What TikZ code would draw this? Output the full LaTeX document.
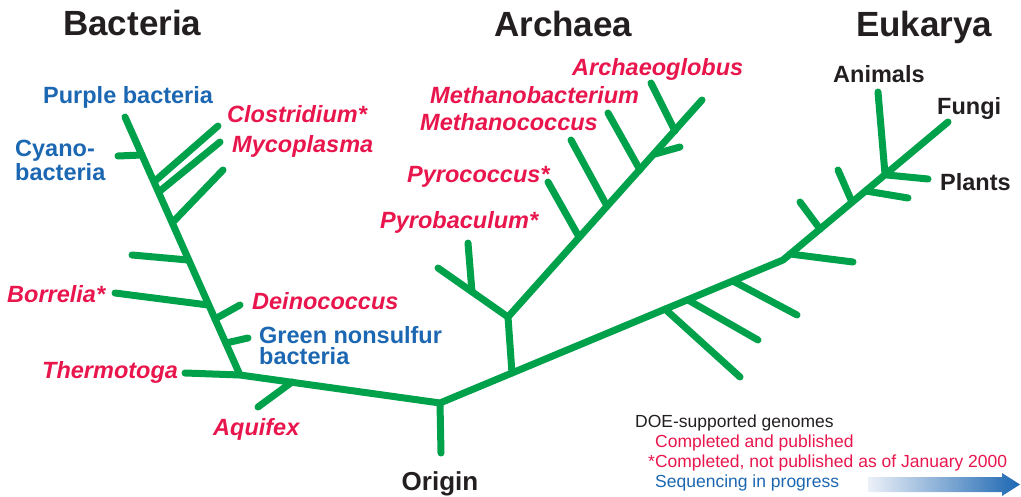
\documentclass[tikz,border=0pt]{standalone}
\usepackage{fontspec}
\setmainfont{Liberation Sans}
\definecolor{treegreen}{RGB}{0,161,75}
\definecolor{labred}{RGB}{232,22,76}
\definecolor{labblue}{RGB}{28,103,178}
\definecolor{labblack}{RGB}{35,31,32}
\definecolor{arrowlight}{RGB}{236,240,248}
\tikzset{
  branch/.style={draw=treegreen, line width=7pt, line cap=round, line join=round},
  titlelab/.style={font=\fontsize{35}{40}\selectfont\bfseries, text=labblack, inner sep=0pt, anchor=base west},
  redlab/.style={font=\fontsize{23.5}{24}\selectfont\bfseries\itshape, text=labred, inner sep=0pt, anchor=base west},
  bluelab/.style={font=\fontsize{23.5}{24}\selectfont\bfseries, text=labblue, inner sep=0pt, anchor=base west},
  bluetwo/.style={font=\fontsize{23.5}{#1}\selectfont\bfseries, text=labblue, inner sep=0pt, anchor=north west, align=left},
  blacklab/.style={font=\fontsize{23.5}{24}\selectfont\bfseries, text=labblack, inner sep=0pt, anchor=base west},
  legendlab/.style={font=\fontsize{17.5}{20}\selectfont, inner sep=0pt, anchor=base west},
}
\begin{document}
\begin{tikzpicture}[x=1pt,y=-1pt]
\useasboundingbox (0,0) rectangle (1021,497);

% ---------- Bacteria coordinates ----------
\coordinate (bt) at (125,117);
\coordinate (bj) at (240,375);
\coordinate (cyE) at (118,156);  \coordinate (cyJ) at (142,155);
\coordinate (clE) at (218,126);  \coordinate (clJ) at (155,181);
\coordinate (myE) at (220,142);  \coordinate (myJ) at (160,191);
\coordinate (u1E) at (223,170);  \coordinate (u1J) at (173,222);
\coordinate (u2E) at (132,255);  \coordinate (u2J) at (188,260);
\coordinate (boE) at (115,293);  \coordinate (boJ) at (208,305);
\coordinate (deE) at (240,305);  \coordinate (deJ) at (215,319);
\coordinate (gnE) at (248,338);  \coordinate (gnJ) at (226,343);
\coordinate (thE) at (185,373);
\coordinate (aqE) at (258,407);  \coordinate (aqJ) at (292,382);
\coordinate (orJ) at (440,403);  \coordinate (orE) at (441,453);

% ---------- Archaea coordinates ----------
\coordinate (arJ) at (512,373);
\coordinate (arB) at (508,317);
\coordinate (arL) at (438,268);
\coordinate (arLs) at (468,243); \coordinate (arLJ) at (472,292);
\coordinate (arT) at (702,100);
\coordinate (pbE) at (548,182);  \coordinate (pbJ) at (579,237);
\coordinate (pcE) at (571,140);  \coordinate (pcJ) at (607,206);
\coordinate (mcE) at (608,113);  \coordinate (mcJ) at (640,170);
\coordinate (agE) at (651,83);   \coordinate (agJ) at (675,131);
\coordinate (smE) at (680,147);  \coordinate (smJ) at (655,154);

% ---------- Eukarya coordinates ----------
\coordinate (euJ) at (783,260);
\coordinate (euT) at (948,122);
\coordinate (e1J) at (665,309);  \coordinate (e1E) at (740,377);
\coordinate (e2J) at (688,300);  \coordinate (e2E) at (758,340);
\coordinate (e3J) at (733,281);  \coordinate (e3E) at (797,315);
\coordinate (e4J) at (790,254);  \coordinate (e4E) at (853,262);
\coordinate (e5E) at (800,202);  \coordinate (e5J) at (820,229);
\coordinate (e6E) at (838,170);  \coordinate (e6J) at (852,202);
\coordinate (e7J) at (866,191);  \coordinate (e7E) at (908,198);
\coordinate (anE) at (878,92);   \coordinate (anJ) at (885,174);
\coordinate (plJ) at (887,175);  \coordinate (plE) at (928,179);

% ---------- tree ----------
\draw[branch] (thE) -- (bj) -- (orJ) -- (euJ) -- (euT);
\draw[branch] (bt) -- (bj);
\draw[branch] (orJ) -- (orE);
\draw[branch] (aqE) -- (aqJ);
\foreach \b in {cy,cl,my,u1,u2,bo,de,gn}{\draw[branch] (\b E) -- (\b J);}
\draw[branch] (arJ) -- (arB) -- (arT);
\draw[branch] (arB) -- (arL);
\draw[branch] (arLs) -- (arLJ);
\foreach \b in {pb,pc,mc,ag,sm}{\draw[branch] (\b E) -- (\b J);}
\foreach \b in {e1,e2,e3,e4,e5,e6,e7,an,pl}{\draw[branch] (\b E) -- (\b J);}

% ---------- titles ----------
\node[titlelab] (tBac) at (63,36) {Bacteria};
\node[titlelab] (tArc) at (494,37) {Archaea};
\node[titlelab] (tEuk) at (856,37) {Eukarya};

% ---------- bacteria labels ----------
\node[bluelab] (lPurple) at (43,104) {Purple bacteria};
\node[bluetwo=24] (lCyano) at (15,140) {Cyano-\\bacteria};
\node[redlab] (lClos) at (227,123) {Clostridium*};
\node[redlab] (lMyco) at (232,153) {Mycoplasma};
\node[redlab] (lBorr) at (7,303) {Borrelia*};
\node[redlab] (lDein) at (252,309) {Deinococcus};
\node[bluetwo=21.6] (lGreen) at (259,326) {Green nonsulfur\\bacteria};
\node[redlab] (lTherm) at (42,378) {Thermotoga};
\node[redlab] (lAqui) at (213,435) {Aquifex};
\node[blacklab, font=\fontsize{26}{28}\selectfont\bfseries, anchor=base] (lOrigin) at (440,490) {Origin};

% ---------- archaea labels ----------
\node[redlab] (lArch) at (572,76) {Archaeoglobus};
\node[redlab] (lMbac) at (430,104) {Methanobacterium};
\node[redlab] (lMcoc) at (420,131) {Methanococcus};
\node[redlab] (lPcoc) at (407,183) {Pyrococcus*};
\node[redlab] (lPbac) at (380,229) {Pyrobaculum*};

% ---------- eukarya labels ----------
\node[blacklab] (lAnim) at (833,83) {Animals};
\node[blacklab] (lFung) at (937,115) {Fungi};
\node[blacklab] (lPlan) at (940,191) {Plants};

% ---------- legend ----------
\node[legendlab, text=labblack] (gDOE) at (635,427) {DOE-supported genomes};
\node[legendlab, text=labred] (gComp) at (655,447.5) {Completed and published};
\node[legendlab, text=labred] (gNot) at (648,467) {*Completed, not published as of January 2000};
\node[legendlab, text=labblue] (gSeq) at (655,487) {Sequencing in progress};
\shade[left color=arrowlight, right color=labblue, shading angle=90]
  (868,477) -- (1002,477) -- (1002,473) -- (1020,484.5) -- (1002,496) -- (1002,492) -- (868,492) -- cycle;
\end{tikzpicture}
\end{document}
